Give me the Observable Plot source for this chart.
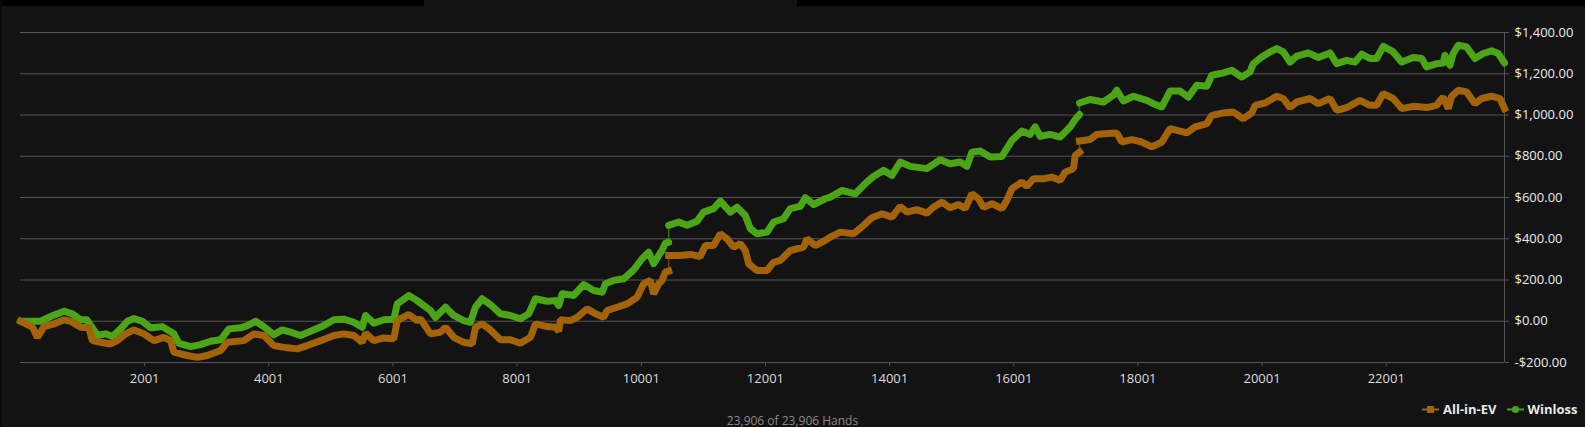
<!DOCTYPE html>
<html>
<head>
<meta charset="utf-8">
<script src="https://cdn.jsdelivr.net/npm/d3@7"></script>
<script src="https://cdn.jsdelivr.net/npm/@observablehq/plot@0.6"></script>
<style>
  html, body { margin: 0; padding: 0; background: #131313; width: 1585px; height: 427px; overflow: hidden; font-family: "Open Sans", sans-serif; }
  #wrap { position: relative; width: 1585px; height: 427px; }
  .bar { position: absolute; top: 0; height: 6px; background: #000; }
  #leftedge { position: absolute; left: 0; top: 0; width: 2px; height: 427px; background: #0a0a0a; }
  #chart { position: absolute; left: 0; top: 0; }
  #legend { position: absolute; top: 401px; left: 1422px; display: flex; align-items: center; font-size: 13px; font-weight: 700; color: #e8e8e8; line-height: 16px; white-space: nowrap; }
  #legend .item { display: flex; align-items: center; }
  #legend svg { margin-right: 4px; }
  #caption { position: absolute; top: 413px; left: 0; width: 1585px; text-align: center; font-size: 12px; color: #8a8a8a; line-height: 16px; }
</style>
</head>
<body>
<div id="wrap">
  <div class="bar" style="left:0;width:424px"></div>
  <div class="bar" style="left:797px;width:788px"></div>
  <div id="leftedge"></div>
  <div id="chart"></div>
  <div id="legend"></div>
  <div id="caption"></div>
</div>
<script>
// ---- data ----
const seriesNames = ["All-in-EV", "Winloss"];
const seriesColors = ["#a3630b", "#4ba517"];

const handsEV = [1,193,273,326,379,540,701,809,970,1104,1158,1292,1453,1561,1695,1828,1989,2150,2311,2419,2472,2688,2849,3010,3224,3332,3599,3760,3921,4082,4298,4459,4620,4834,5048,5209,5370,5506,5559,5692,5853,6014,6069,6256,6391,6444,6605,6766,6847,6980,7141,7277,7330,7438,7571,7732,7893,8054,8215,8296,8484,8618,8671,8698,8859,8967,9128,9262,9395,9450,9611,9772,9933,10039,10147,10200,10281,10335,10389,10442,10442,10630,10791,10952,11033,11166,11274,11382,11488,11596,11677,11730,11865,12026,12132,12240,12401,12615,12670,12804,12965,13045,13206,13420,13581,13717,13878,14039,14172,14280,14441,14602,14708,14844,14977,15111,15219,15327,15433,15513,15649,15810,15890,15971,16132,16212,16318,16479,16615,16748,16829,16962,16990,17060,17060,17231,17339,17500,17661,17742,17903,18064,18225,18386,18519,18680,18788,18922,19110,19191,19377,19538,19699,19835,19888,20049,20237,20343,20451,20559,20773,20907,21095,21203,21364,21578,21739,21847,21953,22114,22250,22436,22652,22813,22919,23000,23055,23161,23296,23430,23538,23699,23832,23906];
const allInEV = [0,-29,-78,-53,-26,-13,7,0,-29,-32,-94,-102,-110,-94,-61,-42,-61,-94,-78,-94,-150,-166,-175,-166,-142,-102,-94,-61,-69,-118,-129,-134,-118,-94,-69,-61,-69,-102,-58,-94,-81,-85,3,33,3,12,-61,-53,-29,-78,-102,-110,-29,-13,-42,-90,-90,-107,-78,-13,-26,-29,-49,7,3,19,60,36,19,52,68,84,116,182,198,133,182,198,238,243,319,319,324,314,367,367,424,400,359,376,343,279,246,246,286,295,343,359,400,367,392,408,432,424,465,502,521,505,557,529,541,524,553,578,550,566,546,618,594,553,570,546,586,643,675,654,691,691,699,683,723,740,804,820,874,881,906,910,913,869,881,869,845,869,934,922,913,942,958,998,1010,1014,982,1010,1047,1058,1091,1080,1036,1063,1080,1055,1080,1023,1036,1071,1047,1047,1104,1080,1031,1042,1036,1047,1087,1031,1091,1120,1112,1055,1080,1091,1080,1031];

const handsWL = [1,326,487,701,837,970,1067,1158,1239,1373,1481,1614,1722,1828,1964,2097,2286,2472,2553,2741,2902,3063,3224,3358,3546,3654,3788,3921,4082,4218,4351,4512,4673,4887,5048,5209,5370,5506,5559,5692,5853,6014,6069,6256,6391,6605,6686,6847,6980,7141,7249,7330,7438,7571,7732,7893,8054,8188,8296,8484,8618,8671,8726,8912,9073,9234,9370,9423,9556,9717,9878,10014,10120,10200,10281,10335,10389,10442,10442,10603,10738,10899,11005,11166,11274,11435,11543,11677,11757,11865,12026,12132,12293,12401,12562,12643,12776,12965,13045,13234,13448,13636,13742,13903,14039,14172,14333,14602,14816,14977,15138,15246,15327,15460,15621,15810,15971,16132,16265,16346,16426,16587,16748,16909,16990,17060,17060,17231,17445,17606,17661,17767,17928,18144,18250,18386,18519,18680,18814,18949,19110,19191,19377,19513,19674,19807,19860,19996,20102,20237,20343,20451,20559,20746,20907,21095,21203,21364,21498,21606,21739,21847,21953,22114,22250,22436,22572,22652,22813,22919,22947,23027,23080,23161,23296,23430,23563,23699,23805,23906];
const winloss = [0,0,23,49,36,7,7,-32,-69,-61,-74,-37,0,13,0,-32,-26,-61,-107,-123,-113,-97,-90,-37,-32,-21,0,-26,-65,-42,-53,-69,-49,-21,7,10,-5,-29,28,-10,7,10,84,125,100,52,19,68,28,3,-5,68,109,81,36,28,12,36,109,97,100,76,133,125,178,149,141,182,198,206,249,303,335,279,319,343,379,383,465,481,465,485,529,546,582,529,553,513,449,424,432,481,497,546,557,599,566,594,602,634,618,675,702,732,707,772,751,740,783,764,772,751,820,825,796,799,877,922,906,942,897,906,893,942,978,1003,1058,1075,1063,1096,1120,1068,1091,1071,1055,1039,1116,1116,1087,1144,1139,1193,1204,1217,1184,1209,1249,1281,1301,1322,1306,1257,1285,1301,1279,1301,1249,1265,1257,1295,1274,1274,1333,1306,1257,1279,1274,1233,1249,1252,1290,1241,1298,1338,1330,1274,1298,1311,1298,1252];

const xTicks = [2001, 4001, 6001, 8001, 10001, 12001, 14001, 16001, 18001, 20001, 22001];
const yTicks = [-200, 0, 200, 400, 600, 800, 1000, 1200, 1400];
const totalHands = 23906;

// ---- build tables (segment breaks where the hand repeats: a jump) ----
function table(hands, values) {
  let seg = 0;
  return hands.map((h, i) => {
    if (i > 0 && hands[i - 1] === h) seg++;
    return {hand: h, value: values[i], seg};
  });
}
const evData = table(handsEV, allInEV);
const wlData = table(handsWL, winloss);

const money = d => (d < 0 ? "-" : "") + "$" + d3.format(",.2f")(Math.abs(d));
const grid = "#555555";

const chart = Plot.plot({
  width: 1585,
  height: 400,
  marginLeft: 20,
  marginRight: 81,
  marginTop: 32,
  marginBottom: 38,
  style: {background: "transparent", fontFamily: "Open Sans, sans-serif", fontSize: "13px", color: "#e6e6e6", overflow: "visible"},
  x: {domain: [1, totalHands]},
  y: {domain: [-200, 1400]},
  marks: [
    Plot.ruleY(yTicks, {x1: 1, x2: totalHands, stroke: grid}),
    Plot.ruleX([totalHands], {y1: -200, y2: 1400, stroke: grid}),
    Plot.axisX(xTicks, {tickSize: 4, tickPadding: 7, tickFormat: d => String(d), stroke: grid, fill: "#dcdcdc", label: null}),
    Plot.axisY(yTicks, {anchor: "right", tickSize: 4, tickPadding: 6, tickFormat: money, stroke: grid, fill: "#ececec", label: null}),
    // Winloss
    Plot.line(wlData, {x: "hand", y: "value", stroke: seriesColors[1], strokeWidth: 1.5, strokeOpacity: 0.6}),
    Plot.line(wlData, {x: "hand", y: "value", z: "seg", stroke: seriesColors[1], strokeWidth: 7, strokeLinejoin: "round", strokeLinecap: "round"}),
    // All-in-EV
    Plot.line(evData, {x: "hand", y: "value", stroke: seriesColors[0], strokeWidth: 1.5, strokeOpacity: 0.6}),
    Plot.line(evData, {x: "hand", y: "value", z: "seg", stroke: seriesColors[0], strokeWidth: 7, strokeLinejoin: "miter", strokeLinecap: "square"})
  ]
});
document.getElementById("chart").appendChild(chart);

// ---- legend ----
const legend = document.getElementById("legend");
seriesNames.forEach((name, i) => {
  const item = document.createElement("div");
  item.className = "item";
  item.style.marginRight = i === 0 ? "10px" : "0";
  const shape = i === 0
    ? `<rect x="5" y="1" width="7" height="7" fill="${seriesColors[i]}"/>`
    : `<circle cx="8.5" cy="4.5" r="3.5" fill="${seriesColors[i]}"/>`;
  item.innerHTML = `<svg width="17" height="9"><line x1="0" x2="17" y1="4.5" y2="4.5" stroke="${seriesColors[i]}" stroke-width="2"/>${shape}</svg><span>${name}</span>`;
  legend.appendChild(item);
});

document.getElementById("caption").textContent =
  `${d3.format(",")(totalHands)} of ${d3.format(",")(totalHands)} Hands`;
</script>
</body>
</html>
